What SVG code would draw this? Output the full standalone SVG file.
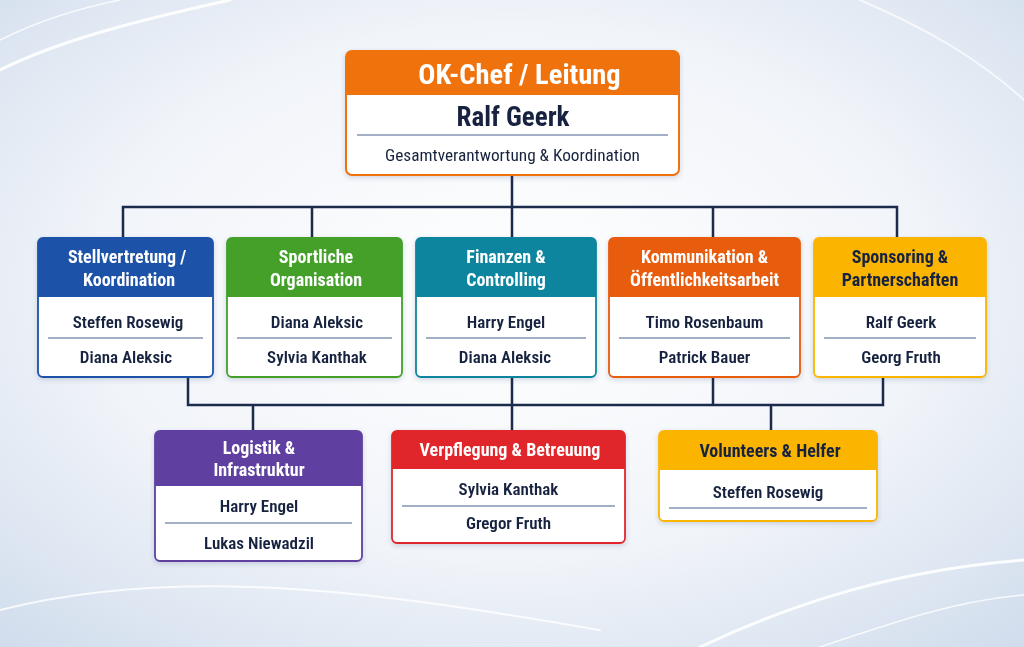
<svg xmlns="http://www.w3.org/2000/svg" width="1024" height="647" viewBox="0 0 1024 647">
<defs>
<radialGradient id="bg" cx="0.5" cy="0.45" r="0.75">
<stop offset="0" stop-color="#ffffff"/>
<stop offset="0.55" stop-color="#f1f4f9"/>
<stop offset="1" stop-color="#cfdcec"/>
</radialGradient>
<filter id="sh" x="-10%" y="-10%" width="120%" height="130%">
<feDropShadow dx="0" dy="2" stdDeviation="2.5" flood-color="#2a3f66" flood-opacity="0.18"/>
</filter>
<style>
text{font-family:"Liberation Sans Narrow","Roboto Condensed","Lato","Liberation Sans",sans-serif;text-anchor:middle;}
.h{font-weight:700;font-size:18px;fill:#ffffff;}
.hd{font-weight:700;font-size:18px;fill:#17243f;}
.n{font-weight:600;font-size:17px;fill:#17243f;}
.div{stroke:#8394b4;stroke-width:1.3;}
.con{fill:none;stroke:#1b2b4b;stroke-width:2.5;stroke-linejoin:miter;}
</style>
</defs>
<rect width="1024" height="647" fill="url(#bg)"/>
<g fill="none" stroke="#ffffff" stroke-linecap="round">
<path d="M0,70 C60,40 140,20 230,0" stroke-width="3" opacity="0.9"/>
<path d="M0,40 C40,20 80,8 120,0" stroke-width="1.5" opacity="0.8"/>
<path d="M0,610 C200,560 420,600 600,630" stroke-width="2" opacity="0.8"/>
<path d="M700,647 C800,600 900,570 1024,560" stroke-width="3" opacity="0.9"/>
<path d="M820,647 C900,620 960,600 1024,595" stroke-width="1.5" opacity="0.8"/>
<path d="M860,0 C930,30 980,60 1024,100" stroke-width="2" opacity="0.7"/>
</g>

<g id="connectors" class="con">
<path d="M512,175 V207 M123,238 V207 H897 V238 M312,207 V238 M512,207 V238 M713,207 V238"/>
<path d="M188,377 V405 H883 V377 M713,377 V405 M512,377 V431 M253,405 V431 M771,405 V431"/>
</g>

<g id="top" filter="url(#sh)">
<rect x="346" y="51" width="333" height="124" rx="6" fill="#ffffff"/>
<path d="M346,95 V57 Q346,51 352,51 H673 Q679,51 679,57 V95 Z" fill="#ef7210"/>
<rect x="346" y="51" width="333" height="124" rx="6" fill="none" stroke="#ef7210" stroke-width="2"/>
<text x="519.5" y="84" style="font-weight:700;font-size:28.5px;fill:#ffffff">OK-Chef / Leitung</text>
<text x="513" y="126" style="font-weight:700;font-size:27px;fill:#17243f">Ralf Geerk</text>
<line class="div" x1="357" y1="135" x2="668" y2="135"/>
<text x="512.5" y="161" style="font-size:17.3px;fill:#17243f">Gesamtverantwortung &amp; Koordination</text>
</g>

<g id="stellvertretung" filter="url(#sh)">
<rect x="38" y="238" width="175" height="139" rx="5" fill="#ffffff"/>
<path d="M38,297 V243 Q38,238 43,238 H208 Q213,238 213,243 V297 Z" fill="#1c52a8"/>
<rect x="38" y="238" width="175" height="139" rx="5" fill="none" stroke="#1c52a8" stroke-width="1.8"/>
<text class="h" x="127" y="263">Stellvertretung /</text>
<text class="h" x="129" y="286">Koordination</text>
<text class="n" x="128" y="328">Steffen Rosewig</text>
<line class="div" x1="48" y1="338" x2="203" y2="338"/>
<text class="n" x="126" y="363">Diana Aleksic</text>
</g>

<g id="sportlich" filter="url(#sh)">
<rect x="227" y="238" width="175" height="139" rx="5" fill="#ffffff"/>
<path d="M227,297 V243 Q227,238 232,238 H397 Q402,238 402,243 V297 Z" fill="#44a02c"/>
<rect x="227" y="238" width="175" height="139" rx="5" fill="none" stroke="#44a02c" stroke-width="1.8"/>
<text class="h" x="316" y="263">Sportliche</text>
<text class="h" x="316" y="286">Organisation</text>
<text class="n" x="317" y="328">Diana Aleksic</text>
<line class="div" x1="237" y1="338" x2="392" y2="338"/>
<text class="n" x="317" y="363">Sylvia Kanthak</text>
</g>

<g id="finanzen" filter="url(#sh)">
<rect x="416" y="238" width="180" height="139" rx="5" fill="#ffffff"/>
<path d="M416,297 V243 Q416,238 421,238 H591 Q596,238 596,243 V297 Z" fill="#0f859e"/>
<rect x="416" y="238" width="180" height="139" rx="5" fill="none" stroke="#0f859e" stroke-width="1.8"/>
<text class="h" x="506" y="263">Finanzen &amp;</text>
<text class="h" x="506" y="286">Controlling</text>
<text class="n" x="506" y="328">Harry Engel</text>
<line class="div" x1="426" y1="338" x2="586" y2="338"/>
<text class="n" x="505" y="363">Diana Aleksic</text>
</g>

<g id="kommunikation" filter="url(#sh)">
<rect x="609" y="238" width="191" height="139" rx="5" fill="#ffffff"/>
<path d="M609,297 V243 Q609,238 614,238 H795 Q800,238 800,243 V297 Z" fill="#e85b0c"/>
<rect x="609" y="238" width="191" height="139" rx="5" fill="none" stroke="#e85b0c" stroke-width="1.8"/>
<text class="h" x="704.5" y="263">Kommunikation &amp;</text>
<text class="h" x="704.5" y="286">Öffentlichkeitsarbeit</text>
<text class="n" x="704.5" y="328">Timo Rosenbaum</text>
<line class="div" x1="619" y1="338" x2="790" y2="338"/>
<text class="n" x="704.5" y="363">Patrick Bauer</text>
</g>

<g id="sponsoring" filter="url(#sh)">
<rect x="814" y="238" width="172" height="139" rx="5" fill="#ffffff"/>
<path d="M814,297 V243 Q814,238 819,238 H981 Q986,238 986,243 V297 Z" fill="#fbb500"/>
<rect x="814" y="238" width="172" height="139" rx="5" fill="none" stroke="#fbb500" stroke-width="1.8"/>
<text class="hd" x="900" y="263">Sponsoring &amp;</text>
<text class="hd" x="900" y="286">Partnerschaften</text>
<text class="n" x="901" y="328">Ralf Geerk</text>
<line class="div" x1="824" y1="338" x2="976" y2="338"/>
<text class="n" x="901" y="363">Georg Fruth</text>
</g>

<g id="logistik" filter="url(#sh)">
<rect x="155" y="431" width="207" height="130" rx="5" fill="#ffffff"/>
<path d="M155,486 V436 Q155,431 160,431 H357 Q362,431 362,436 V486 Z" fill="#5e41a1"/>
<rect x="155" y="431" width="207" height="130" rx="5" fill="none" stroke="#5e41a1" stroke-width="1.8"/>
<text class="h" x="259" y="454">Logistik &amp;</text>
<text class="h" x="259" y="476">Infrastruktur</text>
<text class="n" x="259" y="512">Harry Engel</text>
<line class="div" x1="165" y1="523" x2="352" y2="523"/>
<text class="n" x="259" y="549">Lukas Niewadzil</text>
</g>

<g id="verpflegung" filter="url(#sh)">
<rect x="392" y="431" width="233" height="112" rx="5" fill="#ffffff"/>
<path d="M392,469 V436 Q392,431 397,431 H620 Q625,431 625,436 V469 Z" fill="#e0282c"/>
<rect x="392" y="431" width="233" height="112" rx="5" fill="none" stroke="#e0282c" stroke-width="1.8"/>
<text class="h" x="510" y="456">Verpflegung &amp; Betreuung</text>
<text class="n" x="508.5" y="495">Sylvia Kanthak</text>
<line class="div" x1="402" y1="506" x2="615" y2="506"/>
<text class="n" x="508.5" y="529">Gregor Fruth</text>
</g>

<g id="volunteers" filter="url(#sh)">
<rect x="659" y="431" width="218" height="90" rx="5" fill="#ffffff"/>
<path d="M659,470 V436 Q659,431 664,431 H872 Q877,431 877,436 V470 Z" fill="#fbb500"/>
<rect x="659" y="431" width="218" height="90" rx="5" fill="none" stroke="#fbb500" stroke-width="1.8"/>
<text class="hd" x="770" y="457">Volunteers &amp; Helfer</text>
<text class="n" x="768" y="498">Steffen Rosewig</text>
<line class="div" x1="669" y1="508" x2="867" y2="508"/>
</g>
</svg>
